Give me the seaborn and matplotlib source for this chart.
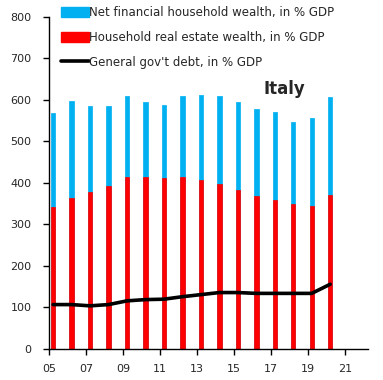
import matplotlib
matplotlib.use('Agg')
import matplotlib.pyplot as plt
import seaborn as sns
import numpy as np
from matplotlib.patches import Patch
from matplotlib.lines import Line2D

# data (% of GDP)
years = [2005, 2006, 2007, 2008, 2009, 2010, 2011, 2012,
         2013, 2014, 2015, 2016, 2017, 2018, 2019, 2020]
real_estate = [343, 365, 378, 393, 414, 414, 412, 414,
               407, 397, 383, 369, 359, 349, 345, 371]
net_financial = [225, 233, 207, 192, 195, 182, 176, 195,
                 204, 212, 213, 210, 213, 199, 211, 235]
gov_debt = [107, 107, 104, 107, 116, 119, 120, 126,
            131, 136, 136, 134, 134, 134, 134, 156]
tick_years = [2005, 2007, 2009, 2011, 2013, 2015, 2017, 2019, 2021]
tick_labels = ['05', '07', '09', '11', '13', '15', '17', '19', '21']

blue = '#00B0F0'
red = '#FF0000'

sns.set_theme(style='white')
plt.rcParams['font.family'] = ['DejaVu Sans']

# bars sit a little after the year tick (date axis in the original)
xpos = np.array(years) + 0.2
total = np.array(real_estate) + np.array(net_financial)

fig = plt.figure(figsize=(3.83, 3.80), dpi=100)
ax = fig.add_axes([0.129, 0.0816, 0.832, 0.8737])

sns.barplot(x=xpos, y=total, native_scale=True, width=0.24, color=blue,
            saturation=1, ax=ax, edgecolor=blue, linewidth=0.5)
sns.barplot(x=xpos, y=np.array(real_estate), native_scale=True, width=0.24,
            color=red, saturation=1, ax=ax, edgecolor=red, linewidth=0.5)
for p in ax.patches:
    p.set_joinstyle('round')
sns.lineplot(x=xpos, y=gov_debt, color='black', linewidth=2.6, ax=ax)

ax.set_xlim(2005, 2022.25)
ax.set_ylim(0, 800)
ax.set_xticks(tick_years)
ax.set_xticklabels(tick_labels)
ax.set_yticks(range(0, 801, 100))
ax.set_xlabel('')
ax.set_ylabel('')
ax.tick_params(axis='both', labelsize=8, length=4, width=1, color='black',
               direction='out', left=True, bottom=True)
ax.tick_params(axis='y', pad=9)
ax.tick_params(axis='x', pad=7)
for s in ['top', 'right']:
    ax.spines[s].set_visible(False)
for s in ['left', 'bottom']:
    ax.spines[s].set_color('black')
    ax.spines[s].set_linewidth(1)

ax.text(2017.7, 626, 'Italy', fontsize=12, fontweight='bold', ha='center', va='center')

handles = [Patch(facecolor=blue, edgecolor=blue, joinstyle='round'),
           Patch(facecolor=red, edgecolor=red, joinstyle='round'),
           Line2D([0], [0], color='black', linewidth=2.6)]
labels = ['Net financial household wealth, in % GDP',
          'Household real estate wealth, in % GDP',
          "General gov't debt, in % GDP"]
fig.legend(handles, labels, loc='upper left', bbox_to_anchor=(0.146, 0.996),
           frameon=False, fontsize=8.5, handlelength=2.4, handleheight=1.0,
           handletextpad=0.0, labelspacing=1.0, borderaxespad=0)

fig.savefig('out.png', dpi=100, facecolor='white')
